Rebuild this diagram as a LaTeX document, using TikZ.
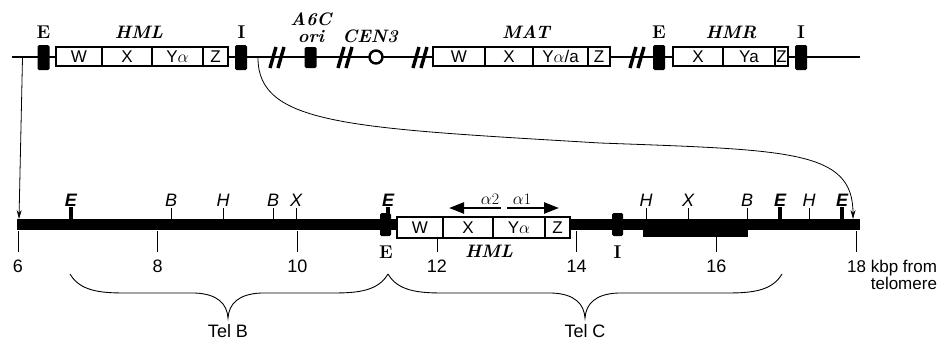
\documentclass[tikz,border=0pt]{standalone}
\usepackage{amsmath}
\usepackage{fontspec}
\usepackage{tikz}
\usetikzlibrary{positioning,arrows.meta,calc}
\newfontfamily\gothic{Liberation Sans}
% curly brace under the map: left x, tip x, right x, top y
\newcommand{\telbrace}[4]{%
  \draw[line width=0.9pt] (#1,#4) .. controls (#1+10,#4+17) and (#1+30,#4+19) .. (#1+55,#4+19)
    -- (#2-33,#4+19) .. controls (#2-10,#4+20) and (#2-1,#4+30) .. (#2,#4+44)
    .. controls (#2+1,#4+30) and (#2+10,#4+20) .. (#2+33,#4+19)
    -- (#3-55,#4+19) .. controls (#3-30,#4+19) and (#3-10,#4+17) .. (#3,#4);}

\begin{document}
\begin{tikzpicture}[x=1pt, y=-1pt, node distance=0pt,
    blk/.style={fill=black, rectangle, rounded corners=1.5pt, minimum width=12pt,
                inner sep=0pt, outer sep=0pt},
    cell/.style={draw, line width=1.6pt, fill=white, minimum height=19pt,
                 inner sep=0pt, outer sep=0pt, font=\gothic\fontsize{17}{19}\selectfont},
    bigl/.style={anchor=base, inner sep=0pt, font=\fontsize{18.5}{20}\selectfont\bfseries},
    genel/.style={anchor=base, inner sep=0pt, font=\fontsize{18}{20}\selectfont\bfseries\itshape},
    site/.style={anchor=base, inner sep=0pt, font=\gothic\fontsize{18}{20}\selectfont\itshape},
    num/.style={anchor=base, inner sep=0pt, font=\gothic\fontsize{18}{20}\selectfont},
    brk/.style={line width=3.4pt},
    conn/.style={line width=0.8pt, -{Stealth[length=9pt,width=5pt]}},
    genarrow/.style={line width=2.4pt, -{Triangle[length=15pt,width=11pt]}}]
  \useasboundingbox (0,0) rectangle (949,341);

  % chromosome III, upper line
  \coordinate (tl) at (12,57);
  \coordinate (tr) at (860,57);
  \draw[line width=2.5pt] (tl) -- (tr);
  \foreach \c in {277,345,420,637} {
    \draw[brk] (\c-7,68) -- (\c-1,47);
    \draw[brk] (\c+1,68) -- (\c+7,47);
  }
  \node[blk, minimum height=25pt] (e1) at (43.5,57.5) {};
  \node[blk, minimum height=25pt] (i1) at (241,57.5) {};
  \node[blk, minimum height=21pt] (ori) at (310.5,57.5) {};
  \node[blk, minimum height=25pt] (e2) at (659,57.5) {};
  \node[blk, minimum height=25pt] (i2) at (801,57.5) {};
  \node[circle, draw, fill=white, line width=2.4pt, minimum size=13pt, inner sep=0pt] (cen) at (376,57) {};

  \node[cell, minimum width=46pt, anchor=west] (hw) at (56,56.5) {W};
  \node[cell, minimum width=50pt, right=of hw] (hx) {X};
  \node[cell, minimum width=51pt, right=of hx] (hy) {Y$\alpha$};
  \node[cell, minimum width=25pt, right=of hy] (hz) {Z};

  \node[cell, minimum width=52pt, anchor=west] (mw) at (433,56.5) {W};
  \node[cell, minimum width=48pt, right=of mw] (mx) {X};
  \node[cell, minimum width=55pt, right=of mx] (my) {Y$\alpha$/a};
  \node[cell, minimum width=22pt, right=of my] (mz) {Z};

  \node[cell, minimum width=50pt, anchor=west] (rx) at (673,56.5) {X};
  \node[cell, minimum width=52pt, right=of rx] (ry) {Ya};
  \node[cell, minimum width=13pt, right=of ry] (rz) {Z};

  \node[bigl] (le1) at (43.5,38.5) {E};
  \node[genel] (lhml) at (139,38) {HML};
  \node[bigl] (li1) at (241.5,38.5) {I};
  \node[genel] (la6c) at (311,25.5) {A6C};
  \node[genel] (lori) at (311,42) {ori};
  \node[genel] (lcen) at (370,42) {CEN3};
  \node[genel] (lmat) at (526,38) {MAT};
  \node[bigl] (le2) at (659,38.5) {E};
  \node[genel] (lhmr) at (731,38) {HMR};
  \node[bigl] (li2) at (801,38.5) {I};

  % enlarged telomere-proximal map, lower line
  \fill (17,219) rectangle (860,230);
  \fill (643,219) rectangle (748,237);
  \foreach \k in {6,8,...,16} {
    \draw[line width=0.8pt] (18+69.83*\k-419,231) -- ++(0,21);
    \node[num] (n\k) at (18+69.83*\k-419,272.5) {\k};
  }
  \draw[line width=0.8pt] (856,231) -- (856,252);
  \node[num, anchor=base west, font=\gothic\fontsize{17}{19}\selectfont] (n18) at (847,272.5) {18 kbp from};
  \node[num, anchor=base east, font=\gothic\fontsize{17}{19}\selectfont] (tm) at ([yshift=-17pt]n18.base east) {telomere};

  \foreach \x/\l in {171/B,223/H,273/B,296/X,646/H,688/X,747/B,809/H} {
    \draw[line width=1pt] (\x,219) -- (\x,208);
    \node[site] (s\x) at (\x,206.5) {\l};
  }
  \foreach \x in {71,388,780,842} {
    \draw[line width=3.4pt] (\x,219) -- (\x,207);
    \node[site, font=\gothic\fontsize{18}{20}\selectfont\bfseries\itshape] (s\x) at (\x,206.5) {E};
  }

  \node[blk, minimum width=11pt, minimum height=23pt] (e3) at (385.5,224.5) {};
  \node[blk, minimum width=11pt, minimum height=23pt] (i3) at (617.5,224.5) {};
  \node[cell, minimum width=46pt, minimum height=21pt, anchor=west] (bw) at (397,227.5) {W};
  \node[cell, minimum width=50pt, minimum height=21pt, right=of bw] (bx) {X};
  \node[cell, minimum width=52pt, minimum height=21pt, right=of bx] (by) {Y$\alpha$};
  \node[cell, minimum width=25pt, minimum height=21pt, right=of by] (bz) {Z};
  \node[bigl] (le3) at (386,258.5) {E};
  \node[bigl] (li3) at (617.5,258.5) {I};
  \node[genel] (lhml2) at (489,257.5) {HML};

  \coordinate (a2s) at (501,208);
  \coordinate (a2t) at (449,208);
  \coordinate (a1s) at (507,208);
  \coordinate (a1t) at (559,208);
  \draw[genarrow] (a2s) -- (a2t);
  \draw[genarrow] (a1s) -- (a1t);
  \node[anchor=base, inner sep=0pt, font=\fontsize{16}{18}\selectfont] (la2) at (490,204) {$\alpha$2};
  \node[anchor=base, inner sep=0pt, font=\fontsize{16}{18}\selectfont] (la1) at (522,204) {$\alpha$1};

  % expansion arrows
  \coordinate (t6) at (22.5,58);
  \coordinate (b6) at (19,219);
  \coordinate (t18) at (258,58);
  \coordinate (b18) at (853,219);
  \draw[conn] (t6) -- (b6);
  \draw[conn] (t18) .. controls (258,125) and (350,128) .. (600,143)
    .. controls (790,150) and (853,150) .. (b18);

  % telomere fragments
  \telbrace{70}{228}{388}{274}
  \telbrace{388}{585}{782}{274}
  \node[num] (telb) at (228,337) {Tel B};
  \node[num] (telc) at (585,337) {Tel C};
\end{tikzpicture}
\end{document}
